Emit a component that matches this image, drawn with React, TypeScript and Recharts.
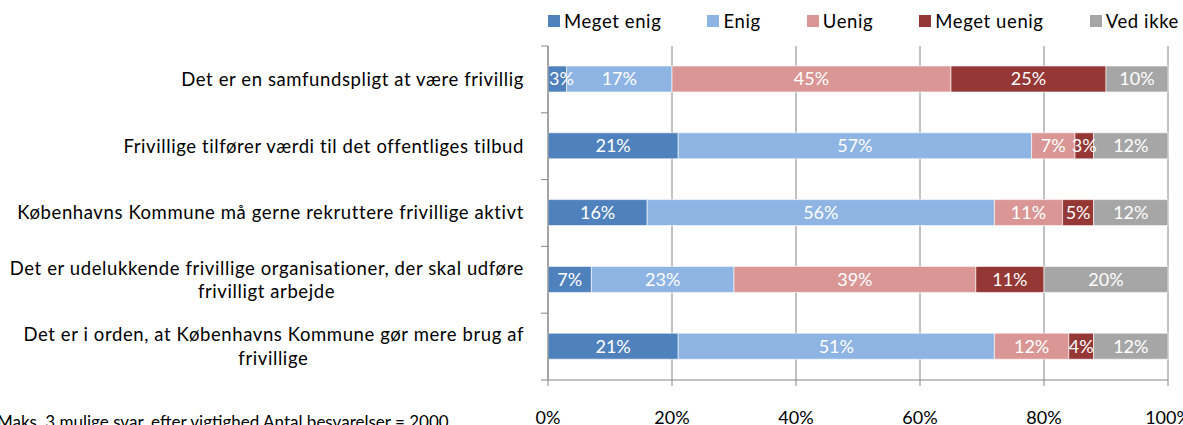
import { BarChart, Bar, XAxis, YAxis, CartesianGrid, LabelList } from 'recharts';

const FONT = 'Lato, "Open Sans", sans-serif';

const categories = [
  ['Det er en samfundspligt at være frivillig'],
  ['Frivillige tilfører værdi til det offentliges tilbud'],
  ['Københavns Kommune må gerne rekruttere frivillige aktivt'],
  ['Det er udelukkende frivillige organisationer, der skal udføre', 'frivilligt arbejde'],
  ['Det er i orden, at Københavns Kommune gør mere brug af', 'frivillige'],
];

const seriesNames = ['Meget enig', 'Enig', 'Uenig', 'Meget uenig', 'Ved ikke'];
const seriesColors = ['#4f81bd', '#8eb4e3', '#d99694', '#953735', '#a6a6a6'];

const megetEnig = [3, 21, 16, 7, 21];
const enig = [17, 57, 56, 23, 51];
const uenig = [45, 7, 11, 39, 12];
const megetUenig = [25, 3, 5, 11, 4];
const vedIkke = [10, 12, 12, 20, 12];

const xTicks = [0, 20, 40, 60, 80, 100];

const note = 'Maks. 3 mulige svar, efter vigtighed Antal besvarelser = 2000';

const seriesValues = [megetEnig, enig, uenig, megetUenig, vedIkke];
const keys = ['s0', 's1', 's2', 's3', 's4'];

const data = categories.map((lines, i) => {
  const row: Record<string, any> = { name: lines.join('\n') };
  seriesValues.forEach((vals, s) => {
    row[keys[s]] = vals[i];
  });
  return row;
});

const LABEL_SIZE = 18.5;
const LABEL_SPACING = 0.6;
const VALUE_SIZE = 18;

let ctx: CanvasRenderingContext2D | null = null;
function textWidth(t: string, size: number, spacing: number) {
  if (!ctx) ctx = document.createElement('canvas').getContext('2d');
  if (!ctx) return t.length * size * 0.45;
  ctx.font = `${size}px ${FONT}`;
  (ctx as any).letterSpacing = `${spacing}px`;
  return ctx.measureText(t).width;
}

const Y_MARGIN = 24;

function YTick(props: any) {
  const { x, y, payload, index, visibleTicksCount } = props;
  const lines = String(payload.value).split('\n');
  const half = payload.offset || 33.5;
  const right = x + Y_MARGIN;
  const w0 = textWidth(lines[0], LABEL_SIZE, LABEL_SPACING);
  const lh = 23.5;
  return (
    <g>
      <line x1={right - 7} x2={right} y1={y - half} y2={y - half} stroke="#868686" />
      {index === visibleTicksCount - 1 && (
        <line x1={right - 7} x2={right} y1={y + half} y2={y + half} stroke="#868686" />
      )}
      {lines.map((l, i) => (
        <text
          key={i}
          x={i === 0 ? x : x - w0 / 2}
          y={y + (i - (lines.length - 1) / 2) * lh}
          dy="0.35em"
          textAnchor={i === 0 ? 'end' : 'middle'}
          fill="#000"
          fontSize={LABEL_SIZE}
          fontFamily={FONT}
          letterSpacing={LABEL_SPACING}
        >
          {l}
        </text>
      ))}
    </g>
  );
}

// value label; the first segment keeps its label inside the plot like Excel does
function makeValueLabel(first: boolean) {
  return (props: any) => {
    const { x, y, width, height, value } = props;
    const t = `${value}%`;
    const tw = textWidth(t, VALUE_SIZE, 0);
    let cx = x + width / 2;
    if (first && cx - tw / 2 < x + 1) cx = x + 1 + tw / 2;
    return (
      <text x={cx} y={y + height / 2} dy="0.35em" textAnchor="middle" fill="#fff" fontSize={VALUE_SIZE} fontFamily={FONT}>
        {t}
      </text>
    );
  };
}

export default function App() {
  return (
    <div style={{ position: 'absolute', left: 0, top: 0, width: 1183, height: 425, overflow: 'hidden', background: '#fff' }}>
      <BarChart
        width={1183}
        height={425}
        data={data}
        layout="vertical"
        margin={{ top: 46, right: 15, bottom: 0, left: 0 }}
        barSize={26}
      >
        <CartesianGrid horizontal={false} stroke="#868686" />
        <XAxis
          type="number"
          domain={[0, 100]}
          ticks={xTicks}
          tickFormatter={(v) => `${v}%`}
          height={45}
          axisLine={{ stroke: '#868686' }}
          tickLine={{ stroke: '#868686' }}
          tickSize={6}
          tickMargin={25}
          tick={{ fill: '#000', fontSize: 18, fontFamily: FONT }}
          interval={0}
        />
        <YAxis
          type="category"
          dataKey="name"
          width={548}
          axisLine={{ stroke: '#868686' }}
          tickLine={false}
          tickSize={0}
          tickMargin={Y_MARGIN}
          tick={<YTick />}
          interval={0}
        />
        {keys.map((k, s) => (
          <Bar key={k} dataKey={k} stackId="a" fill={seriesColors[s]} stroke="#fff" strokeWidth={0.6} isAnimationActive={false}>
            <LabelList dataKey={k} content={makeValueLabel(s === 0)} />
          </Bar>
        ))}
      </BarChart>
      <div
        style={{
          position: 'absolute',
          left: 548,
          top: 9,
          width: 631,
          display: 'flex',
          justifyContent: 'space-between',
          fontFamily: FONT,
          fontSize: LABEL_SIZE,
          letterSpacing: LABEL_SPACING,
          color: '#000',
          lineHeight: '24px',
        }}
      >
        {seriesNames.map((n, s) => (
          <div key={n} style={{ display: 'flex', alignItems: 'center', whiteSpace: 'nowrap' }}>
            <span style={{ display: 'inline-block', width: 12, height: 12, background: seriesColors[s], marginRight: 4 }} />
            <span>{n}</span>
          </div>
        ))}
      </div>
      <div
        style={{
          position: 'absolute',
          left: -3,
          top: 411,
          fontFamily: FONT,
          fontSize: 17,
          color: '#000',
          whiteSpace: 'nowrap',
        }}
      >
        {note}
      </div>
    </div>
  );
}
